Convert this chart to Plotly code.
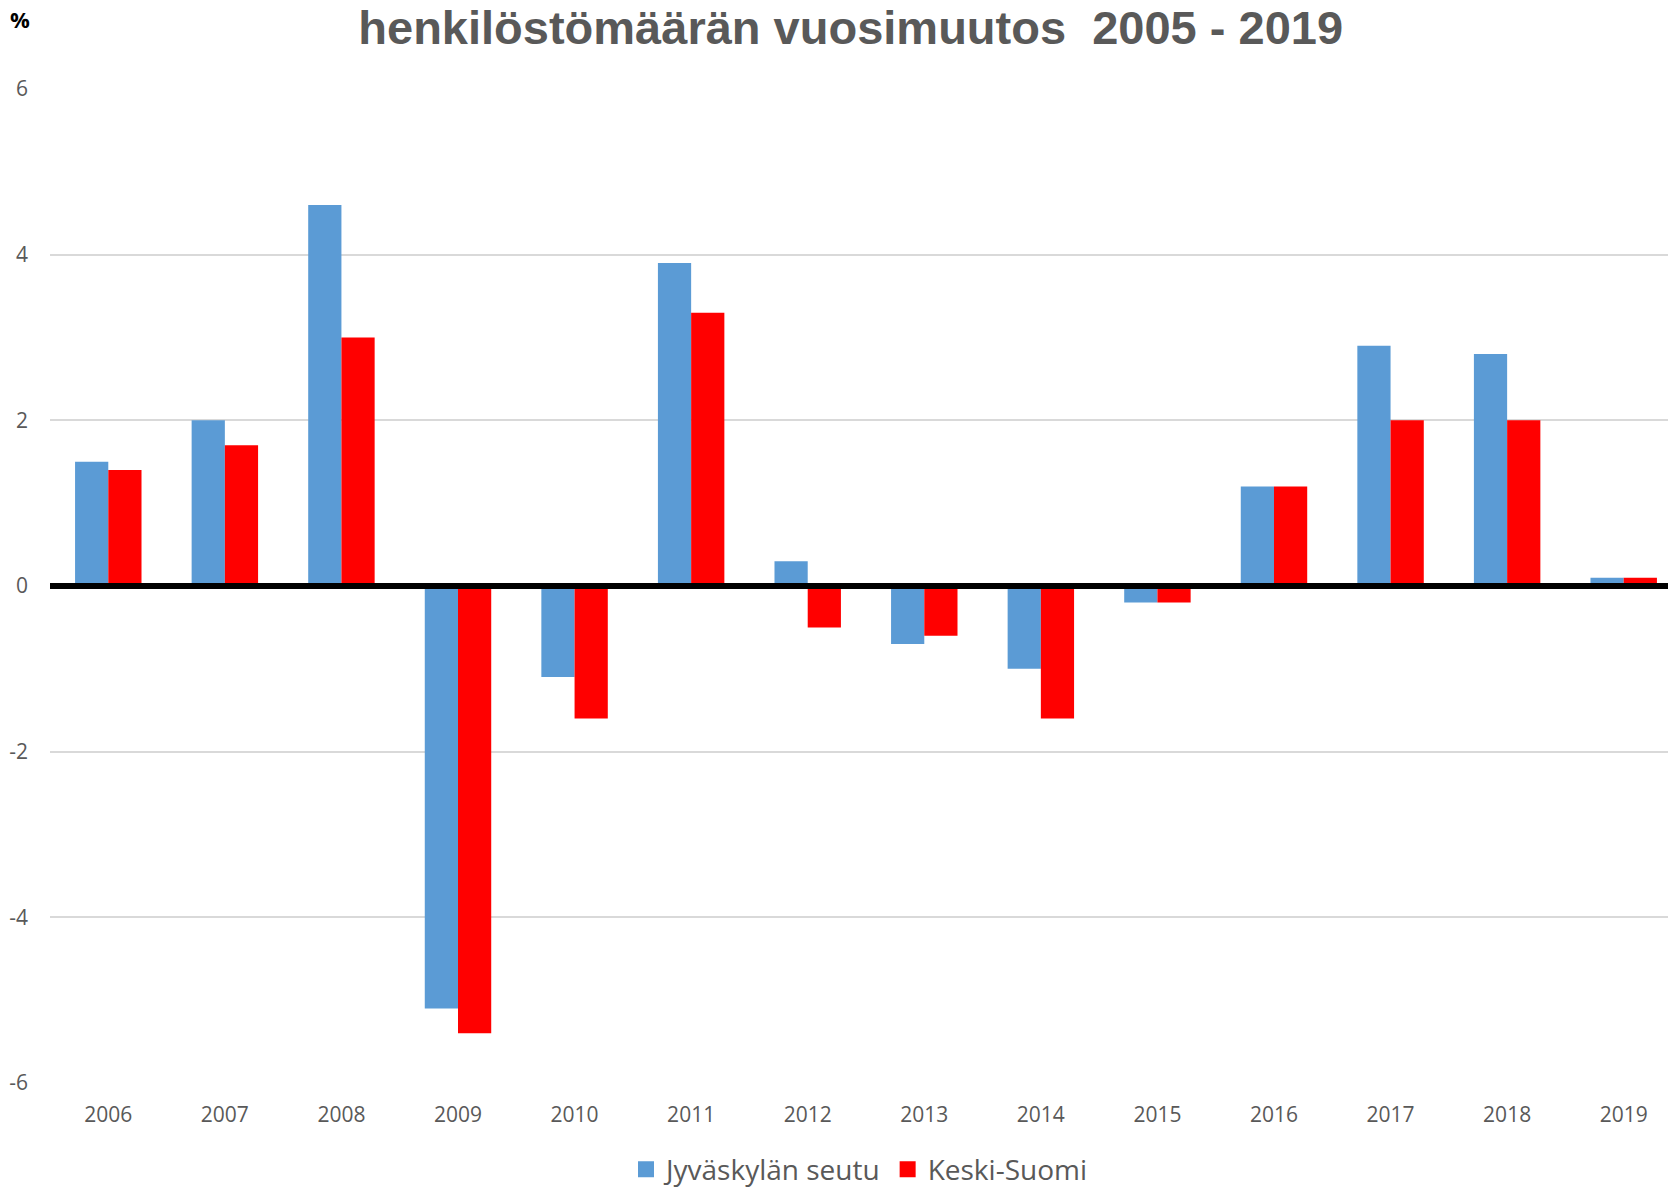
import plotly.graph_objects as go

years = ["2006", "2007", "2008", "2009", "2010", "2011", "2012", "2013",
         "2014", "2015", "2016", "2017", "2018", "2019"]
jyvaskyla = [1.5, 2.0, 4.6, -5.1, -1.1, 3.9, 0.3, -0.7, -1.0, -0.2, 1.2, 2.9, 2.8, 0.1]
keski_suomi = [1.4, 1.7, 3.0, -5.4, -1.6, 3.3, -0.5, -0.6, -1.6, -0.2, 1.2, 2.0, 2.0, 0.1]
y_ticks = [-6, -4, -2, 0, 2, 4, 6]
y_tick_text = ["-6", "-4", "-2", "0", "2", "4", "6"]
series_names = ["Jyväskylän seutu", "Keski-Suomi"]
series_colors = ["#5B9BD5", "#FF0000"]

W, H = 1668, 1187
fig = go.Figure()
for vals, name, col in zip([jyvaskyla, keski_suomi], series_names, series_colors):
    fig.add_trace(go.Bar(x=years, y=vals, name=name, showlegend=False,
                         marker=dict(color=col, line=dict(width=0))))
# legend entries with larger square symbols
for name, col in zip(series_names, series_colors):
    fig.add_trace(go.Scatter(x=[None], y=[None], mode="markers", name=name,
                             marker=dict(symbol="square", size=19, color=col)))

fig.add_shape(type="line", xref="paper", x0=0, x1=1, yref="y", y0=0, y1=0,
              line=dict(color="black", width=6), layer="above")

fig.update_layout(
    width=W, height=H,
    margin=dict(l=50, r=0, t=89, b=104, autoexpand=False),
    paper_bgcolor="white", plot_bgcolor="white",
    barmode="group", bargap=0.43, bargroupgap=0,
    font=dict(family="Open Sans", color="#595959"),
    title=dict(text="<b>henkilöstömäärän vuosimuutos  2005 - 2019</b>",
               x=0.51, xanchor="center", y=1 - 27.5 / H, yanchor="middle",
               font=dict(size=47, color="#595959", family="Liberation Sans")),
    showlegend=True,
    legend=dict(orientation="h", x=0.5, xanchor="center", y=-0.087, yanchor="middle",
                font=dict(size=28, color="#595959"), traceorder="normal"),
    annotations=[dict(text="<b>%</b>", xref="paper", yref="paper", x=-30 / 1618, y=1 + 70 / 994,
                      xanchor="center", yanchor="middle", showarrow=False,
                      font=dict(size=22, color="black", family="Open Sans"))],
)
fig.update_xaxes(range=[-0.5, 13.38], showgrid=False, showline=False, ticks="",
                 tickfont=dict(size=21, color="#595959"), ticklabelstandoff=17)
fig.update_yaxes(range=[-6, 6], tickvals=y_ticks, ticktext=y_tick_text, showgrid=True,
                 gridcolor="#D9D9D9", gridwidth=1.5, zeroline=False, showline=False, ticks="",
                 tickfont=dict(size=21, color="#595959"), ticklabelstandoff=21)

# remove the browser's default 8px body margin so the figure fills the window exactly
fig.write_html("out.html", config={"displayModeBar": False},
               post_script="document.body.style.margin='0';")
